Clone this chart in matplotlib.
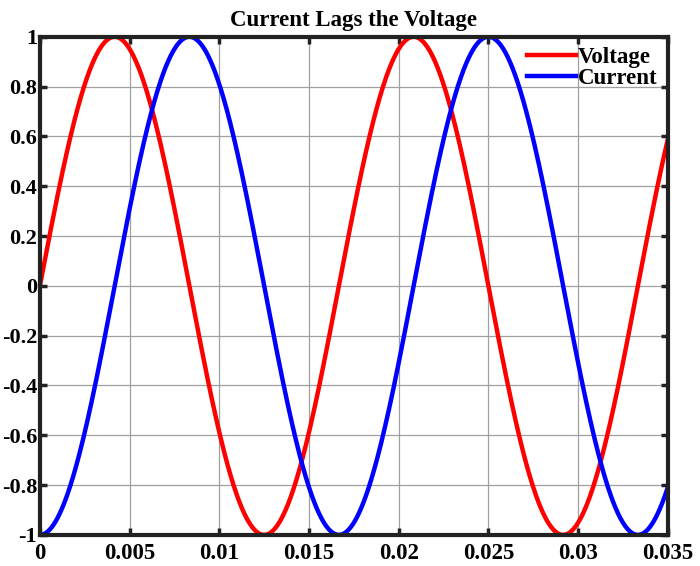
import numpy as np
import matplotlib
matplotlib.use('Agg')
import matplotlib.pyplot as plt

# values: 60 Hz sine, current lags voltage by 90 degrees
freq = 60.0
amplitude = 1.0
voltage_phase_deg = 0.0
current_phase_deg = -90.0
t_end = 0.035

x_ticks = [0, 0.005, 0.01, 0.015, 0.02, 0.025, 0.03, 0.035]
x_labels = ['0', '0.005', '0.01', '0.015', '0.02', '0.025', '0.03', '0.035']
y_ticks = [-1, -0.8, -0.6, -0.4, -0.2, 0, 0.2, 0.4, 0.6, 0.8, 1]
y_labels = ['-1', '-0.8', '-0.6', '-0.4', '-0.2', '0', '0.2', '0.4', '0.6', '0.8', '1']

t = np.linspace(0, t_end, 1000)
voltage = amplitude * np.sin(2 * np.pi * freq * t + np.deg2rad(voltage_phase_deg))
current = amplitude * np.sin(2 * np.pi * freq * t + np.deg2rad(current_phase_deg))

plt.rcParams['font.family'] = ['Liberation Serif', 'DejaVu Serif']
plt.rcParams['font.weight'] = 'bold'

fig = plt.figure(figsize=(7, 5.66), dpi=100)
ax = fig.add_axes([0.057, 0.055, 0.897, 0.880])

ax.plot(t, voltage, color='#ff0000', lw=3.2, label='Voltage')
ax.plot(t, current, color='#0000ff', lw=3.2, label='Current')

ax.set_xlim(0, t_end)
ax.set_ylim(-1, 1)
ax.set_xticks(x_ticks)
ax.set_xticklabels(x_labels)
ax.set_yticks(y_ticks)
ax.set_yticklabels(y_labels)
ax.tick_params(direction='in', length=5, width=2.5, labelsize=16.5, color='#222222',
               top=True, right=True)
ax.tick_params(axis='x', pad=6)
ax.tick_params(axis='y', pad=2, labelsize=16)
ax.grid(True, color='#a0a0a0', lw=0.9)
for s in ax.spines.values():
    s.set_linewidth(3)
    s.set_color('#222222')

ax.set_title('Current Lags the Voltage', fontsize=16.5, fontweight='bold', pad=8)
leg = ax.legend(loc='upper right', frameon=False, fontsize=16.5, handlelength=2.1,
                borderaxespad=0.05, labelspacing=0.0, handletextpad=0.1)

fig.savefig('out.png', dpi=100)
